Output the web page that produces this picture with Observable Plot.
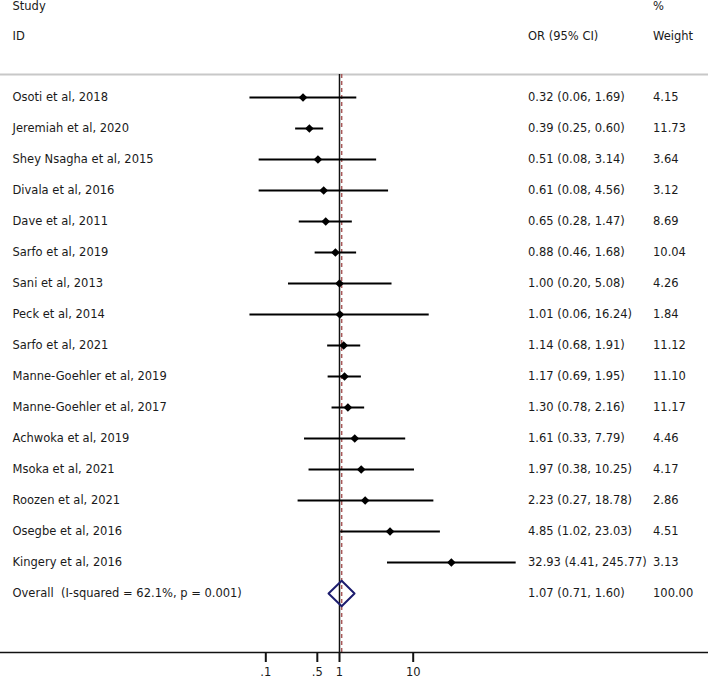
<!DOCTYPE html>
<html>
<head>
<meta charset="utf-8">
<script src="https://cdn.jsdelivr.net/npm/d3@7"></script>
<script src="https://cdn.jsdelivr.net/npm/@observablehq/plot@0.6"></script>
<style>
  html, body { margin: 0; padding: 0; background: #fff; }
  svg text { white-space: pre; }
</style>
</head>
<body>
<div id="chart"></div>
<script>
const studies = [
  "Osoti et al, 2018", "Jeremiah et al, 2020", "Shey Nsagha et al, 2015", "Divala et al, 2016",
  "Dave et al, 2011", "Sarfo et al, 2019", "Sani et al, 2013", "Peck et al, 2014",
  "Sarfo et al, 2021", "Manne-Goehler et al, 2019", "Manne-Goehler et al, 2017", "Achwoka et al, 2019",
  "Msoka et al, 2021", "Roozen et al, 2021", "Osegbe et al, 2016", "Kingery et al, 2016"
];
const orValues = [0.32, 0.39, 0.51, 0.61, 0.65, 0.88, 1.00, 1.01, 1.14, 1.17, 1.30, 1.61, 1.97, 2.23, 4.85, 32.93];
const ciLow    = [0.06, 0.25, 0.08, 0.08, 0.28, 0.46, 0.20, 0.06, 0.68, 0.69, 0.78, 0.33, 0.38, 0.27, 1.02, 4.41];
const ciHigh   = [1.69, 0.60, 3.14, 4.56, 1.47, 1.68, 5.08, 16.24, 1.91, 1.95, 2.16, 7.79, 10.25, 18.78, 23.03, 245.77];
const weights  = [4.15, 11.73, 3.64, 3.12, 8.69, 10.04, 4.26, 1.84, 11.12, 11.10, 11.17, 4.46, 4.17, 2.86, 4.51, 3.13];

const overallLabel = "Overall  (I-squared = 62.1%, p = 0.001)";
const overallOR = 1.07, overallLow = 0.71, overallHigh = 1.60, overallWeight = 100.00;

const headerStudy = ["Study", "ID"];
const headerOR = ["", "OR (95% CI)"];
const headerWeight = ["%", "Weight"];
const tickValues = [0.1, 0.5, 1, 10];
const tickLabels = [".1", ".5", "1", "10"];

const rows = studies.map((s, i) => ({
  study: s, i, or: orValues[i], lo: ciLow[i], hi: ciHigh[i],
  orText: `${orValues[i].toFixed(2)} (${ciLow[i].toFixed(2)}, ${ciHigh[i].toFixed(2)})`,
  wText: weights[i].toFixed(2)
}));
const oi = studies.length;
const overallRow = {
  study: overallLabel, i: oi, or: overallOR, lo: overallLow, hi: overallHigh,
  orText: `${overallOR.toFixed(2)} (${overallLow.toFixed(2)}, ${overallHigh.toFixed(2)})`,
  wText: overallWeight.toFixed(2)
};
const allRows = [...rows, overallRow];
const dh = 0.41;
const diamond = [
  {x: overallLow, y: oi}, {x: overallOR, y: oi - dh}, {x: overallHigh, y: oi},
  {x: overallOR, y: oi + dh}, {x: overallLow, y: oi}
];
const ticks = tickValues.map((v, k) => ({v, label: tickLabels[k]}));

const W = 708, H = 678;
const x1 = 339, dec = 73.7;
const textX = 12, orX = 527.5, wX = 652.5;
const font = "DejaVu Sans, Verdana, sans-serif";
const ink = "#1a1a1a";
const fs = 11.5;
const axisIdx = (652 - 97) / 31;
const hy = [-2.94, -1.97];

function headerMark(arr, dx) {
  const d = arr.map((t, k) => ({t, y: hy[k]})).filter(e => e.t);
  return Plot.text(d, {y: "y", text: "t", textAnchor: "start", frameAnchor: "left", dx, fill: ink});
}

const chart = Plot.plot({
  width: W, height: H,
  marginLeft: 0, marginRight: 0, marginTop: 74, marginBottom: 26,
  style: {fontFamily: font, fontSize: fs + "px", color: ink, background: "#fff"},
  x: {type: "log", domain: [Math.pow(10, -x1 / dec), Math.pow(10, (W - x1) / dec)], range: [0, W], axis: null},
  y: {domain: [0, 16], range: [97, 593], axis: null},
  marks: [
    Plot.frame({anchor: "top", stroke: "#c8c8c8", strokeWidth: 2}),
    Plot.ruleX([1], {stroke: "#111", strokeWidth: 1.5}),
    Plot.ruleX([overallOR], {stroke: "#a85a5a", strokeWidth: 1.5, strokeDasharray: "4,3"}),
    Plot.frame({anchor: "bottom", stroke: "#111", strokeWidth: 1.5}),
    Plot.ruleX(ticks, {x: "v", y1: axisIdx, y2: axisIdx + 10 / 31, stroke: "#111", strokeWidth: 2}),
    Plot.text(ticks, {x: "v", y: axisIdx + 19.5 / 31, text: "label", fill: ink, fontSize: fs}),
    Plot.link(rows, {x1: "lo", x2: "hi", y1: "i", y2: "i", stroke: "#000", strokeWidth: 2}),
    Plot.dot(rows, {x: "or", y: "i", symbol: "diamond2", r: 3.9, fill: "#000"}),
    Plot.line(diamond, {x: "x", y: "y", stroke: "#1c1c6e", strokeWidth: 2}),
    Plot.text(allRows, {y: "i", text: "study", textAnchor: "start", fill: ink, frameAnchor: "left", dx: textX}),
    Plot.text(allRows, {y: "i", text: "orText", textAnchor: "start", fill: ink, frameAnchor: "left", dx: orX}),
    Plot.text(allRows, {y: "i", text: "wText", textAnchor: "start", fill: ink, frameAnchor: "left", dx: wX}),
    headerMark(headerStudy, textX),
    headerMark(headerOR, orX),
    headerMark(headerWeight, wX)
  ]
});
document.getElementById("chart").appendChild(chart);
</script>
</body>
</html>
